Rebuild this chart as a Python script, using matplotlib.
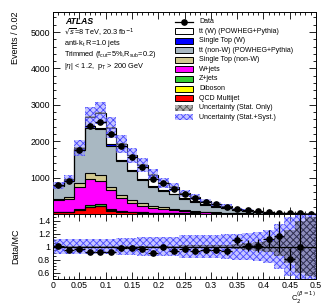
import numpy as np
import matplotlib
matplotlib.use("Agg")
import matplotlib.pyplot as plt
from matplotlib.patches import Rectangle
from matplotlib.ticker import MultipleLocator

plt.rcParams['font.family'] = ['Liberation Sans', 'DejaVu Sans']
plt.rcParams['hatch.linewidth'] = 0.6

# ---------------- data ----------------
bin_edges = np.round(np.arange(0, 0.5001, 0.02), 3)

data = [800, 910, 1750, 2416, 2527, 2185, 1875, 1560, 1290, 970, 855, 700,
        546, 444, 340, 265, 205, 150, 105, 70, 48, 33, 23, 16, 11]

qcd = [45, 50, 110, 190, 210, 90, 65, 50, 40, 32, 26, 20, 16, 13, 10, 8, 6, 5, 4, 3, 2, 2, 1, 1, 1]
diboson = [5, 5, 8, 10, 10, 8, 6, 5, 4, 3, 3, 2, 2, 2, 1, 1, 1, 1, 1, 0.5, 0.5, 0.5, 0.3, 0.3, 0.2]
zjets = [10, 10, 25, 45, 45, 30, 15, 10, 8, 6, 5, 4, 3, 3, 2, 2, 1, 1, 1, 1, 0.5, 0.5, 0.5, 0.3, 0.2]
wjets = [320, 360, 587, 720, 653, 532, 350, 249, 170, 119, 96, 74, 59, 37, 32, 24, 17, 12, 8, 5, 4, 3, 2, 1.5, 1]
stop_nonw = [45, 45, 110, 165, 167, 90, 90, 80, 80, 60, 50, 40, 30, 25, 18, 14, 10, 7, 5, 4, 3, 2, 2, 1, 1]
tt_nonw = [345, 450, 930, 1240, 1240, 1130, 919, 776, 635, 530, 460, 397, 310, 260, 197, 151, 125, 74, 56, 36, 22, 13, 15, 8, 6]
stop_w = [8, 12, 18, 40, 45, 45, 40, 35, 30, 25, 20, 18, 14, 12, 9, 7, 5, 3, 3, 2, 1, 1, 1, 0.5, 0.5]
tt_w = [6, 21, 25, 245, 407, 450, 438, 403, 383, 303, 195, 196, 138, 123, 91, 73, 55, 33, 25, 17, 10, 6, 6, 3.5, 2.5]

ratio = [1.015, 0.95, 0.96, 0.91, 0.91, 0.92, 0.975, 0.97, 0.955, 0.90, 1.0, 0.935,
         0.955, 0.935, 0.945, 0.945, 0.93, 1.10, 1.015, 1.015, 1.12, 1.16, 0.81, 1.0, np.nan]
ratio_err = [0.03, 0.03, 0.02, 0.02, 0.02, 0.02, 0.02, 0.02, 0.03, 0.03, 0.03, 0.04,
             0.04, 0.04, 0.05, 0.05, 0.06, 0.08, 0.09, 0.10, 0.14, 0.24, 0.17, 0.55, 0.6]

rel_unc_syst = [0.12, 0.12, 0.12, 0.11, 0.11, 0.12, 0.13, 0.13, 0.14, 0.14, 0.15, 0.15,
                0.17, 0.17, 0.17, 0.18, 0.19, 0.20, 0.21, 0.22, 0.25, 0.35, 0.45, 0.5, 0.5]
rel_unc_stat = [0.01, 0.01, 0.01, 0.01, 0.01, 0.01, 0.01, 0.01, 0.01, 0.01, 0.015, 0.015,
                0.02, 0.02, 0.02, 0.03, 0.03, 0.04, 0.05, 0.07, 0.09, 0.15, 0.25, 0.4, 0.45]

x_tick_labels = ['0', '0.05', '0.1', '0.15', '0.2', '0.25', '0.3', '0.35', '0.4', '0.45', '0.5']
ratio_tick_labels = ['0.6', '0.8', '1', '1.2', '1.4']

components = [
    ("QCD Multijet", qcd, "#ff0000"),
    ("Diboson", diboson, "#ffff00"),
    ("Z+jets", zjets, "#33cc33"),
    ("W+jets", wjets, "#ff00ff"),
    ("Single Top (non-W)", stop_nonw, "#d2c98f"),
    ("tt (non-W) (POWHEG+Pythia)", tt_nonw, "#a9b8c2"),
    ("Single Top (W)", stop_w, "#0000ff"),
    ("tt (W) (POWHEG+Pythia)", tt_w, "#ffffff"),
]

# ---------------- figure ----------------
W, H = 332, 305
fig = plt.figure(figsize=(W / 100, H / 100), dpi=100)

def ax_rect(x0, y0, x1, y1):
    return [x0 / W, 1 - y1 / H, (x1 - x0) / W, (y1 - y0) / H]

ax = fig.add_axes(ax_rect(53, 12, 316, 214))
rax = fig.add_axes(ax_rect(53, 214, 316, 279))

edges = bin_edges
centers = 0.5 * (edges[:-1] + edges[1:])

def step_vals(v):
    v = np.asarray(v, float)
    return np.append(v, v[-1])

cum = np.zeros(len(data))
for name, vals, col in components:
    vals = np.asarray(vals, float)
    top = cum + vals
    ax.fill_between(edges, step_vals(cum), step_vals(top), step='post',
                    facecolor=col, edgecolor='none', linewidth=0, zorder=2)
    ax.stairs(top, edges, color='black', linewidth=0.8, baseline=None, zorder=3)
    cum = top
total = cum

syst_fc = (0.55, 0.55, 1.0, 0.5)
syst_ec = '#4848ff'

# uncertainty bands main
syst = total * np.asarray(rel_unc_syst)
stat = total * np.asarray(rel_unc_stat)
ax.fill_between(edges, step_vals(total - syst), step_vals(total + syst), step='post',
                facecolor=syst_fc, edgecolor=syst_ec, hatch='xxxxx',
                linewidth=0, zorder=4)
ax.fill_between(edges, step_vals(total - stat), step_vals(total + stat), step='post',
                facecolor=(0.4, 0.4, 0.4, 0.4), edgecolor='#555555', hatch='xxxxx',
                linewidth=0, zorder=4)

# data
ax.errorbar(centers, data, xerr=0.01, yerr=np.sqrt(data), fmt='o', color='black',
            ms=3.8, elinewidth=0.9, capsize=0, zorder=6)

ax.set_xlim(0, 0.5)
ax.set_ylim(0, 5550)
ax.set_yticks([1000, 2000, 3000, 4000, 5000])
ax.yaxis.set_minor_locator(MultipleLocator(200))
ax.xaxis.set_major_locator(MultipleLocator(0.05))
ax.xaxis.set_minor_locator(MultipleLocator(0.01))
ax.tick_params(which='both', direction='in', top=True, right=True, labelsize=6.3,
               width=0.6, pad=2)
ax.tick_params(which='major', length=5)
ax.tick_params(which='minor', length=2.5)
ax.tick_params(axis='x', labelbottom=False)
ax.set_ylabel('Events / 0.02', fontsize=6.5, loc='top', labelpad=4)

# annotation text
fig.text(65 / W, 1 - 22 / H, 'ATLAS', fontsize=6.2, fontweight='bold', fontstyle='italic',
         va='center', ha='left')
lines = [r'$\sqrt{s}$=8 TeV, 20.3 fb$^{-1}$',
         r'anti-k$_{\mathregular{t}}$ R=1.0 jets',
         r'Trimmed (f$_{\mathregular{cut}}$=5%,R$_{\mathregular{sub}}$=0.2)',
         r'|$\eta$| < 1.2,  p$_{\mathregular{T}}$ > 200 GeV']
ys = [33, 43.5, 55, 66.5]
for s, y in zip(lines, ys):
    fig.text(64 / W, 1 - y / H, s, fontsize=5.3, va='center', ha='left')

# legend (manual)
leg_entries = [
    ("Data", None),
    ("tt (W) (POWHEG+Pythia)", "#ffffff"),
    ("Single Top (W)", "#0000ff"),
    ("tt (non-W) (POWHEG+Pythia)", "#a9b8c2"),
    ("Single Top (non-W)", "#d2c98f"),
    ("W+jets", "#ff00ff"),
    ("Z+jets", "#33cc33"),
    ("Diboson", "#ffff00"),
    ("QCD Multijet", "#ff0000"),
    ("Uncertainty (Stat. Only)", "stat"),
    ("Uncertainty (Stat.+Syst.)", "syst"),
]
ly0, ldy = 21.7, 9.55
for i, (lab, col) in enumerate(leg_entries):
    y = ly0 + i * ldy
    if col is None:
        fig.add_artist(plt.Line2D([175 / W, 193 / W], [1 - y / H, 1 - y / H], color='black',
                                  lw=0.9, transform=fig.transFigure))
        fig.add_artist(plt.Line2D([184 / W], [1 - y / H], marker='o', ms=3.8, color='black',
                                  transform=fig.transFigure))
    elif col == 'stat':
        fig.add_artist(Rectangle((175 / W, 1 - (y + 3) / H), 18 / W, 6 / H,
                                 facecolor=(0.5, 0.5, 0.5, 0.6), edgecolor='#555555',
                                 hatch='xxxxx', lw=0, transform=fig.transFigure))
    elif col == 'syst':
        fig.add_artist(Rectangle((175 / W, 1 - (y + 3) / H), 18 / W, 6 / H,
                                 facecolor=syst_fc, edgecolor=syst_ec,
                                 hatch='xxxxx', lw=0, transform=fig.transFigure))
    else:
        fig.add_artist(Rectangle((175 / W, 1 - (y + 3) / H), 18 / W, 6 / H,
                                 facecolor=col, edgecolor='black', lw=0.7,
                                 transform=fig.transFigure))
    fig.text(199 / W, 1 - y / H, lab, fontsize=5.0, va='center', ha='left')

# ---------------- ratio ----------------
rs = np.asarray(rel_unc_syst)
rst = np.asarray(rel_unc_stat)
rax.fill_between(edges, step_vals(1 - rs), step_vals(1 + rs), step='post',
                 facecolor=syst_fc, edgecolor=syst_ec, hatch='xxxxx',
                 linewidth=0, zorder=2)
rax.fill_between(edges, step_vals(1 - rst), step_vals(1 + rst), step='post',
                 facecolor=(0.3, 0.3, 0.4, 0.45), edgecolor='#333344', hatch='xxxxx',
                 linewidth=0, zorder=3)
rax.axhline(1.0, color='black', lw=0.9, zorder=4)
rax.errorbar(centers, ratio, xerr=0.01, yerr=ratio_err, fmt='o', color='black',
             ms=3.8, elinewidth=0.9, capsize=0, zorder=6)
rax.set_xlim(0, 0.5)
rax.set_ylim(0.5, 1.5)
rax.yaxis.set_minor_locator(MultipleLocator(0.05))
rax.xaxis.set_minor_locator(MultipleLocator(0.01))
rax.set_yticks([0.6, 0.8, 1.0, 1.2, 1.4])
rax.set_yticklabels(ratio_tick_labels)
rax.set_xticks(np.round(np.arange(0, 0.501, 0.05), 2))
rax.set_xticklabels(x_tick_labels)
rax.tick_params(which='both', direction='in', top=True, right=True, labelsize=6.3,
                width=0.6, pad=2)
rax.tick_params(axis='x', pad=1.2)
rax.tick_params(which='major', length=5)
rax.tick_params(which='minor', length=2.5)
rax.set_ylabel('Data/MC', fontsize=6.5, labelpad=4)
rax.yaxis.set_label_coords(-0.125, 0.5)
ax.yaxis.set_label_coords(-0.125, 1.0)
fig.text(316 / W, 1 - 301.5 / H, r'C$_2^{(\beta=1)}$', fontsize=5.5, ha='right', va='baseline')

for a in (ax, rax):
    for sp in a.spines.values():
        sp.set_linewidth(0.7)

fig.savefig('out.png', dpi=100)
